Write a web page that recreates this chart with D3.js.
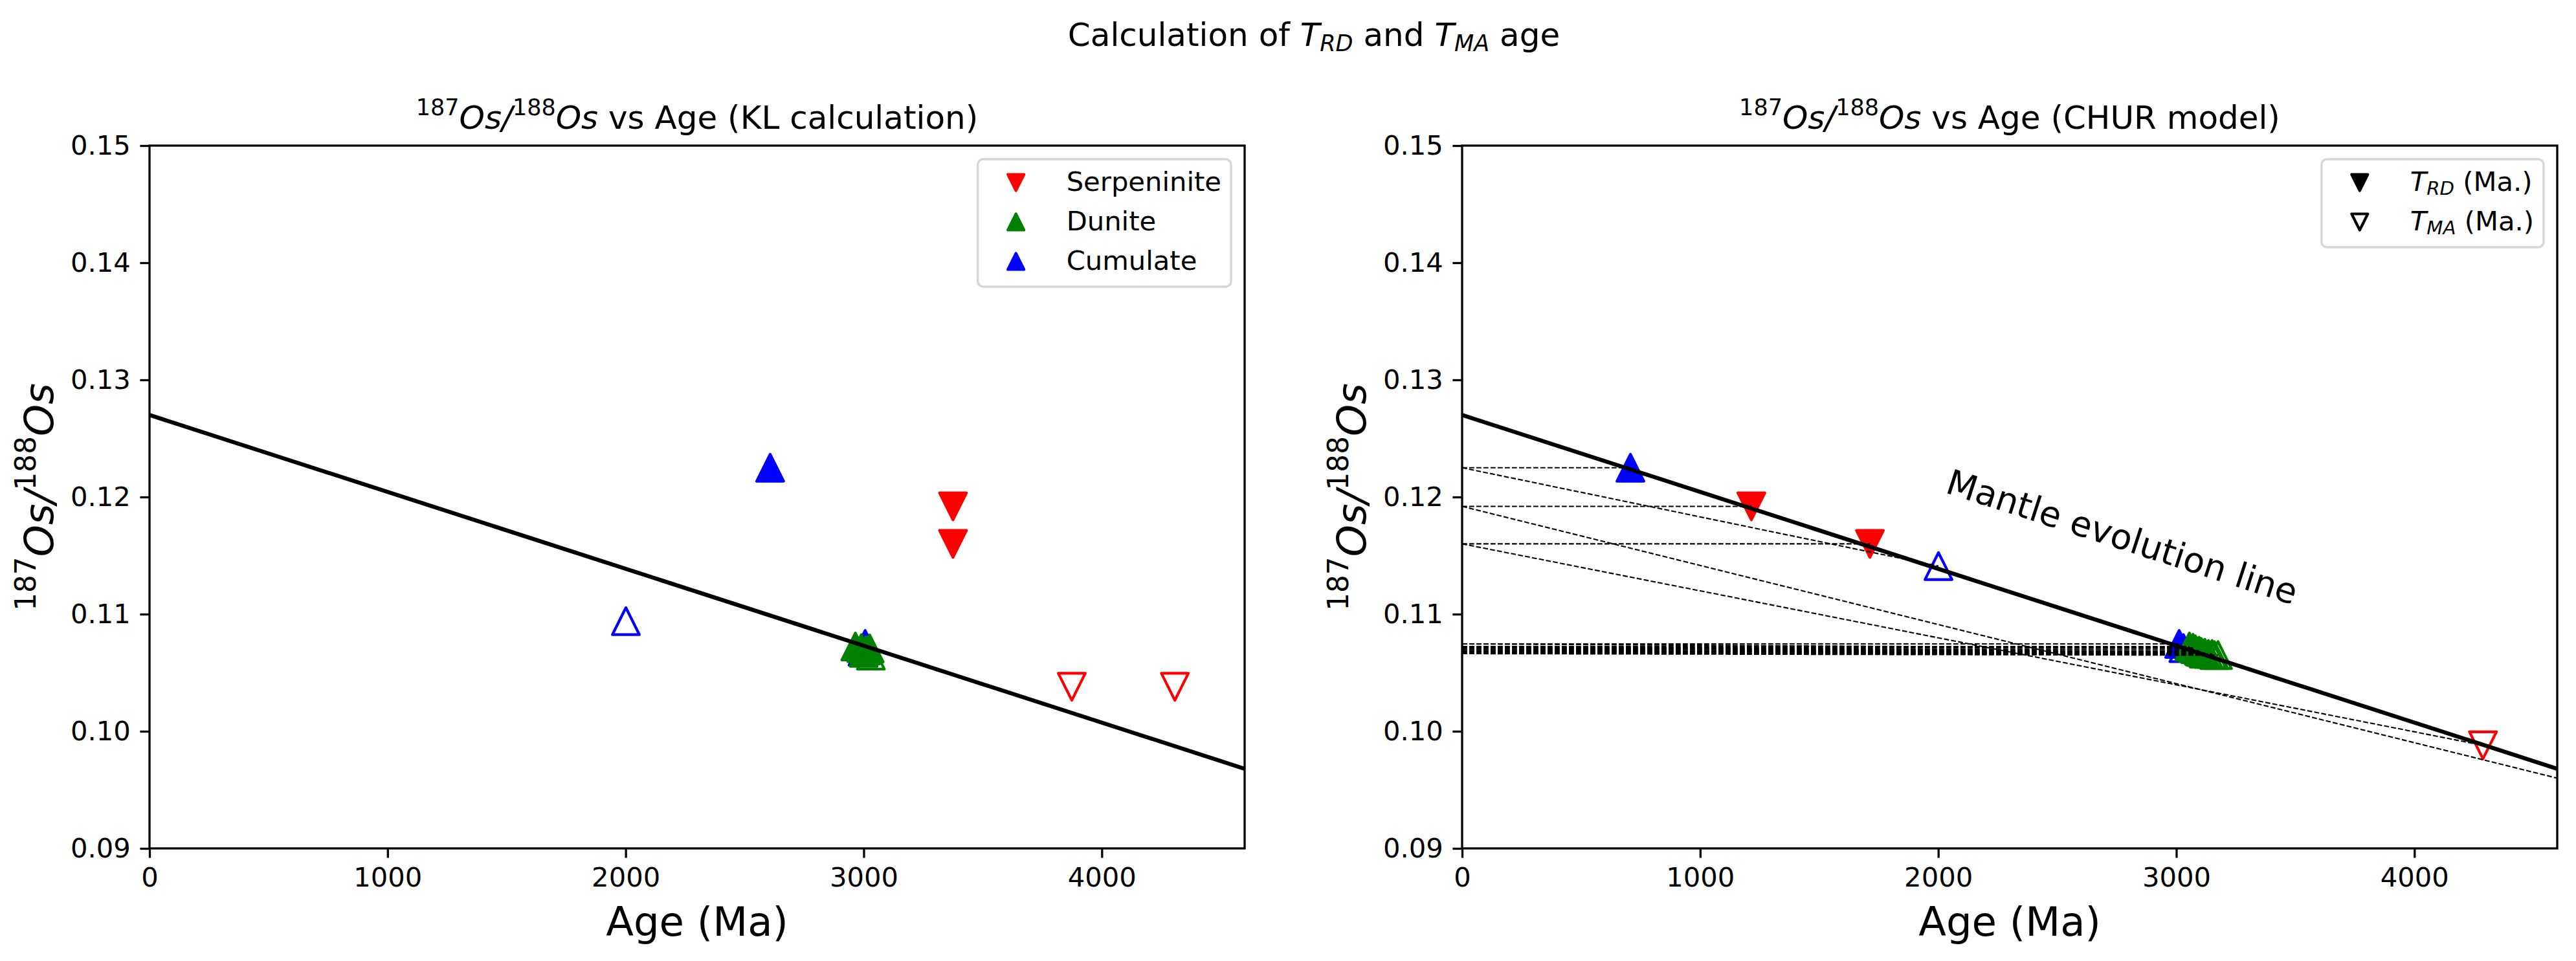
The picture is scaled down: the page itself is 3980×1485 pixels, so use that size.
<!DOCTYPE html>
<html>
<head>
<meta charset="utf-8">
<script src="https://cdn.jsdelivr.net/npm/d3@7"></script>
<style>
  body { margin: 0; background: #fff; }
  svg { display: block; font-family: "DejaVu Sans", sans-serif; }
  text { white-space: pre; }
</style>
</head>
<body>
<svg id="chart" width="3980" height="1485"></svg>
<script>
// ticks
const xTicks = [0, 1000, 2000, 3000, 4000];
const yTicks = [0.09, 0.10, 0.11, 0.12, 0.13, 0.14, 0.15];

// mantle (CHUR) evolution line
const mantleAge = [0, 4600];
const mantleOs = [0.1270, 0.0968];

// left panel, KL calculation
const serpKlAge = [3375, 3375];
const serpKlOs = [0.1192, 0.1160];
const serpKlOpenAge = [3874, 4307];
const serpKlOpenOs = [0.1038, 0.1038];
const duniteKlAge = [2965, 2990, 3010, 3025];
const duniteKlOs = [0.10724, 0.1071, 0.1069, 0.10707];
const duniteKlOpenAge = [3000, 3030];
const duniteKlOpenOs = [0.1067, 0.10646];
const cumKlAge = [2607, 3006];
const cumKlOs = [0.1225, 0.10746];
const cumKlOpenAge = [2001, 2995];
const cumKlOpenOs = [0.1094, 0.1068];

// right panel, CHUR model: one entry per sample
const sampleRock = ['Cumulate', 'Serpeninite', 'Serpeninite', 'Cumulate',
  'Dunite', 'Dunite', 'Dunite', 'Dunite', 'Dunite', 'Dunite'];
const sampleOs = [0.1225, 0.1192, 0.1160, 0.10746,
  0.10724, 0.10713, 0.10700, 0.10687, 0.10676, 0.10663];
const sampleTrd = [707, 1215, 1713, 3012, 3055, 3070, 3080, 3095, 3105, 3115];
const sampleTma = [2001, 5115, 4288, 3030, 3100, 3120, 3135, 3150, 3160, 3175];
const sampleTmaOs = [0.1141, 0.0934, 0.0988, 0.1071,
  0.1068, 0.1067, 0.1066, 0.1066, 0.1065, 0.1065];

const rockColour = { Serpeninite: 'red', Dunite: 'green', Cumulate: 'blue' };
const rockDown = { Serpeninite: true, Dunite: false, Cumulate: false };

const svg = d3.select('#chart');
const axTop = 225, axBottom = 1311, axWidth = 1692;
const tickFs = 41.7, labelFs = 62.5, titleFs = 50;
const markSize = 41.7, markEdge = 4.2;

function tri(size, down) {
  const h = size / 2;
  return down ? `M0,${h}L${-h},${-h}L${h},${-h}Z` : `M0,${-h}L${-h},${h}L${h},${h}Z`;
}

// very small mathtext: parts with italic / superscript / subscript
function rich(textSel, parts, fs) {
  let shift = 0;
  parts.forEach(p => {
    const target = p.sup ? -0.43 * fs : p.sub ? 0.15 * fs : 0;
    textSel.append('tspan')
      .attr('dy', target - shift)
      .attr('font-size', (p.sup || p.sub) ? fs * 0.7 : fs)
      .attr('font-style', p.it ? 'italic' : 'normal')
      .text(p.t);
    shift = target;
  });
}

const osRatio = [
  { t: '187', sup: true }, { t: 'Os', it: true }, { t: '/', it: true },
  { t: '188', sup: true }, { t: 'Os', it: true }
];

function scatter(g, x, y, ages, oss, colour, down, open) {
  g.selectAll(null)
    .data(ages.map((a, i) => [a, oss[i]]))
    .enter().append('path')
      .attr('d', tri(markSize, down))
      .attr('transform', d => `translate(${x(d[0])},${y(d[1])})`)
      .attr('fill', open ? 'none' : colour)
      .attr('stroke', colour)
      .attr('stroke-width', markEdge)
      .attr('stroke-linejoin', 'round');
}

function makePanel(x0, id, title) {
  const x = d3.scaleLinear().domain([0, 4600]).range([x0, x0 + axWidth]);
  const y = d3.scaleLinear().domain([0.09, 0.15]).range([axBottom, axTop]);

  svg.append('clipPath').attr('id', 'clip-' + id)
    .append('rect').attr('x', x0).attr('y', axTop)
    .attr('width', axWidth).attr('height', axBottom - axTop);

  const plot = svg.append('g').attr('clip-path', `url(#clip-${id})`);

  const xAxis = svg.append('g')
    .attr('transform', `translate(0,${axBottom})`)
    .call(d3.axisBottom(x).tickValues(xTicks).tickSize(14.6).tickPadding(14.6)
      .tickFormat(d3.format('d')));
  const yAxis = svg.append('g')
    .attr('transform', `translate(${x0},0)`)
    .call(d3.axisLeft(y).tickValues(yTicks).tickSize(14.6).tickPadding(14.6)
      .tickFormat(d3.format('.2f')));
  [xAxis, yAxis].forEach(a => {
    a.select('.domain').remove();
    a.selectAll('line').attr('stroke', '#000').attr('stroke-width', 3.3);
    a.selectAll('text').attr('font-size', tickFs).attr('fill', '#000')
      .attr('font-family', '"DejaVu Sans", sans-serif');
  });

  // titles and labels
  const t = svg.append('text').attr('x', x0 + axWidth / 2).attr('y', 199)
    .attr('text-anchor', 'middle');
  rich(t, osRatio.concat([{ t: ' vs Age (' + title + ')' }]), titleFs);

  svg.append('text').attr('x', x0 + axWidth / 2).attr('y', 1446)
    .attr('text-anchor', 'middle').attr('font-size', labelFs).text('Age (Ma)');

  // baseline of the rotated label sits 149px left of the spine
  const yl = svg.append('text')
    .attr('transform', `translate(${x0 - 149},${(axTop + axBottom) / 2}) rotate(-90)`)
    .attr('text-anchor', 'middle');
  rich(yl, osRatio, labelFs);

  return { x, y, plot, x0 };
}

function mantleLine(p) {
  p.plot.append('path')
    .datum(mantleAge.map((a, i) => [a, mantleOs[i]]))
    .attr('d', d3.line().x(d => p.x(d[0])).y(d => p.y(d[1])))
    .attr('fill', 'none').attr('stroke', '#000').attr('stroke-width', 6.25);
}

function spines(p) {
  svg.append('rect').attr('x', p.x0).attr('y', axTop)
    .attr('width', axWidth).attr('height', axBottom - axTop)
    .attr('fill', 'none').attr('stroke', '#000').attr('stroke-width', 3.3);
}

function legend(p, entries) {
  const g = svg.append('g');
  const right = p.x0 + axWidth - 21, top = 246;
  const box = g.append('rect');
  const texts = [];
  entries.forEach((e, i) => {
    const cy = top + 36 + i * 61;
    g.append('path').attr('d', tri(25, e.down))
      .attr('transform', `translate(0,${cy})`)
      .attr('class', 'lg-mark')
      .attr('fill', e.open ? 'none' : e.colour)
      .attr('stroke', e.colour).attr('stroke-width', markEdge)
      .attr('stroke-linejoin', 'round');
    const tx = g.append('text').attr('y', cy + 13).attr('class', 'lg-text');
    rich(tx, e.label, tickFs);
    texts.push(tx);
  });
  const maxLen = d3.max(texts, t => t.node().getComputedTextLength());
  const left = right - (137 + maxLen + 15);
  g.selectAll('.lg-mark').attr('transform', function() {
    const cy = +d3.select(this).attr('transform').match(/,([\d.]+)\)/)[1];
    return `translate(${left + 59},${cy})`;
  });
  g.selectAll('.lg-text').attr('x', left + 137);
  box.attr('x', left).attr('y', top).attr('width', right - left)
    .attr('height', entries.length * 61 + 14).attr('rx', 8.3)
    .attr('fill', 'rgba(255,255,255,0.8)').attr('stroke', '#d6d6d6')
    .attr('stroke-width', 3.5);
}

// suptitle
const sup = svg.append('text').attr('x', 2030).attr('y', 71).attr('text-anchor', 'middle');
rich(sup, [
  { t: 'Calculation of ' }, { t: 'T', it: true }, { t: 'RD', it: true, sub: true },
  { t: ' and ' }, { t: 'T', it: true }, { t: 'MA', it: true, sub: true }, { t: ' age' }
], titleFs);

// left panel
const kl = makePanel(231, 'kl', 'KL calculation');
scatter(kl.plot, kl.x, kl.y, serpKlAge, serpKlOs, 'red', true, false);
scatter(kl.plot, kl.x, kl.y, serpKlOpenAge, serpKlOpenOs, 'red', true, true);
scatter(kl.plot, kl.x, kl.y, cumKlAge, cumKlOs, 'blue', false, false);
scatter(kl.plot, kl.x, kl.y, cumKlOpenAge, cumKlOpenOs, 'blue', false, true);
scatter(kl.plot, kl.x, kl.y, duniteKlAge, duniteKlOs, 'green', false, false);
scatter(kl.plot, kl.x, kl.y, duniteKlOpenAge, duniteKlOpenOs, 'green', false, true);
mantleLine(kl);
spines(kl);
legend(kl, [
  { label: [{ t: 'Serpeninite' }], colour: 'red', down: true },
  { label: [{ t: 'Dunite' }], colour: 'green', down: false },
  { label: [{ t: 'Cumulate' }], colour: 'blue', down: false }
]);

// right panel
const chur = makePanel(2259, 'chur', 'CHUR model');
['Serpeninite', 'Cumulate', 'Dunite'].forEach(rock => {
  const idx = d3.range(sampleOs.length).filter(i => sampleRock[i] === rock);
  const c = rockColour[rock], down = rockDown[rock];
  scatter(chur.plot, chur.x, chur.y, idx.map(i => sampleTrd[i]), idx.map(i => sampleOs[i]), c, down, false);
  scatter(chur.plot, chur.x, chur.y, idx.map(i => sampleTma[i]), idx.map(i => sampleTmaOs[i]), c, down, true);
});
sampleOs.forEach((os, i) => {
  chur.plot.append('line')
    .attr('x1', chur.x(0)).attr('y1', chur.y(os))
    .attr('x2', chur.x(sampleTrd[i])).attr('y2', chur.y(os))
    .attr('stroke', '#000').attr('stroke-width', 2.1).attr('stroke-dasharray', '7.7,3.3');
  chur.plot.append('line')
    .attr('x1', chur.x(0)).attr('y1', chur.y(os))
    .attr('x2', chur.x(sampleTma[i])).attr('y2', chur.y(sampleTmaOs[i]))
    .attr('stroke', '#000').attr('stroke-width', 2.1).attr('stroke-dasharray', '7.7,3.3');
});
mantleLine(chur);

const mantleLabelAt = [2025, 0.1204];
const angle = Math.atan2(chur.y(mantleOs[1]) - chur.y(mantleOs[0]),
  chur.x(mantleAge[1]) - chur.x(mantleAge[0])) * 180 / Math.PI;
svg.append('text')
  .attr('transform', `translate(${chur.x(mantleLabelAt[0])},${chur.y(mantleLabelAt[1])}) rotate(${angle})`)
  .attr('font-size', 54).text('Mantle evolution line');

spines(chur);
legend(chur, [
  { label: [{ t: 'T', it: true }, { t: 'RD', it: true, sub: true }, { t: ' (Ma.)' }], colour: '#000', down: true },
  { label: [{ t: 'T', it: true }, { t: 'MA', it: true, sub: true }, { t: ' (Ma.)' }], colour: '#000', down: true, open: true }
]);
</script>
</body>
</html>
